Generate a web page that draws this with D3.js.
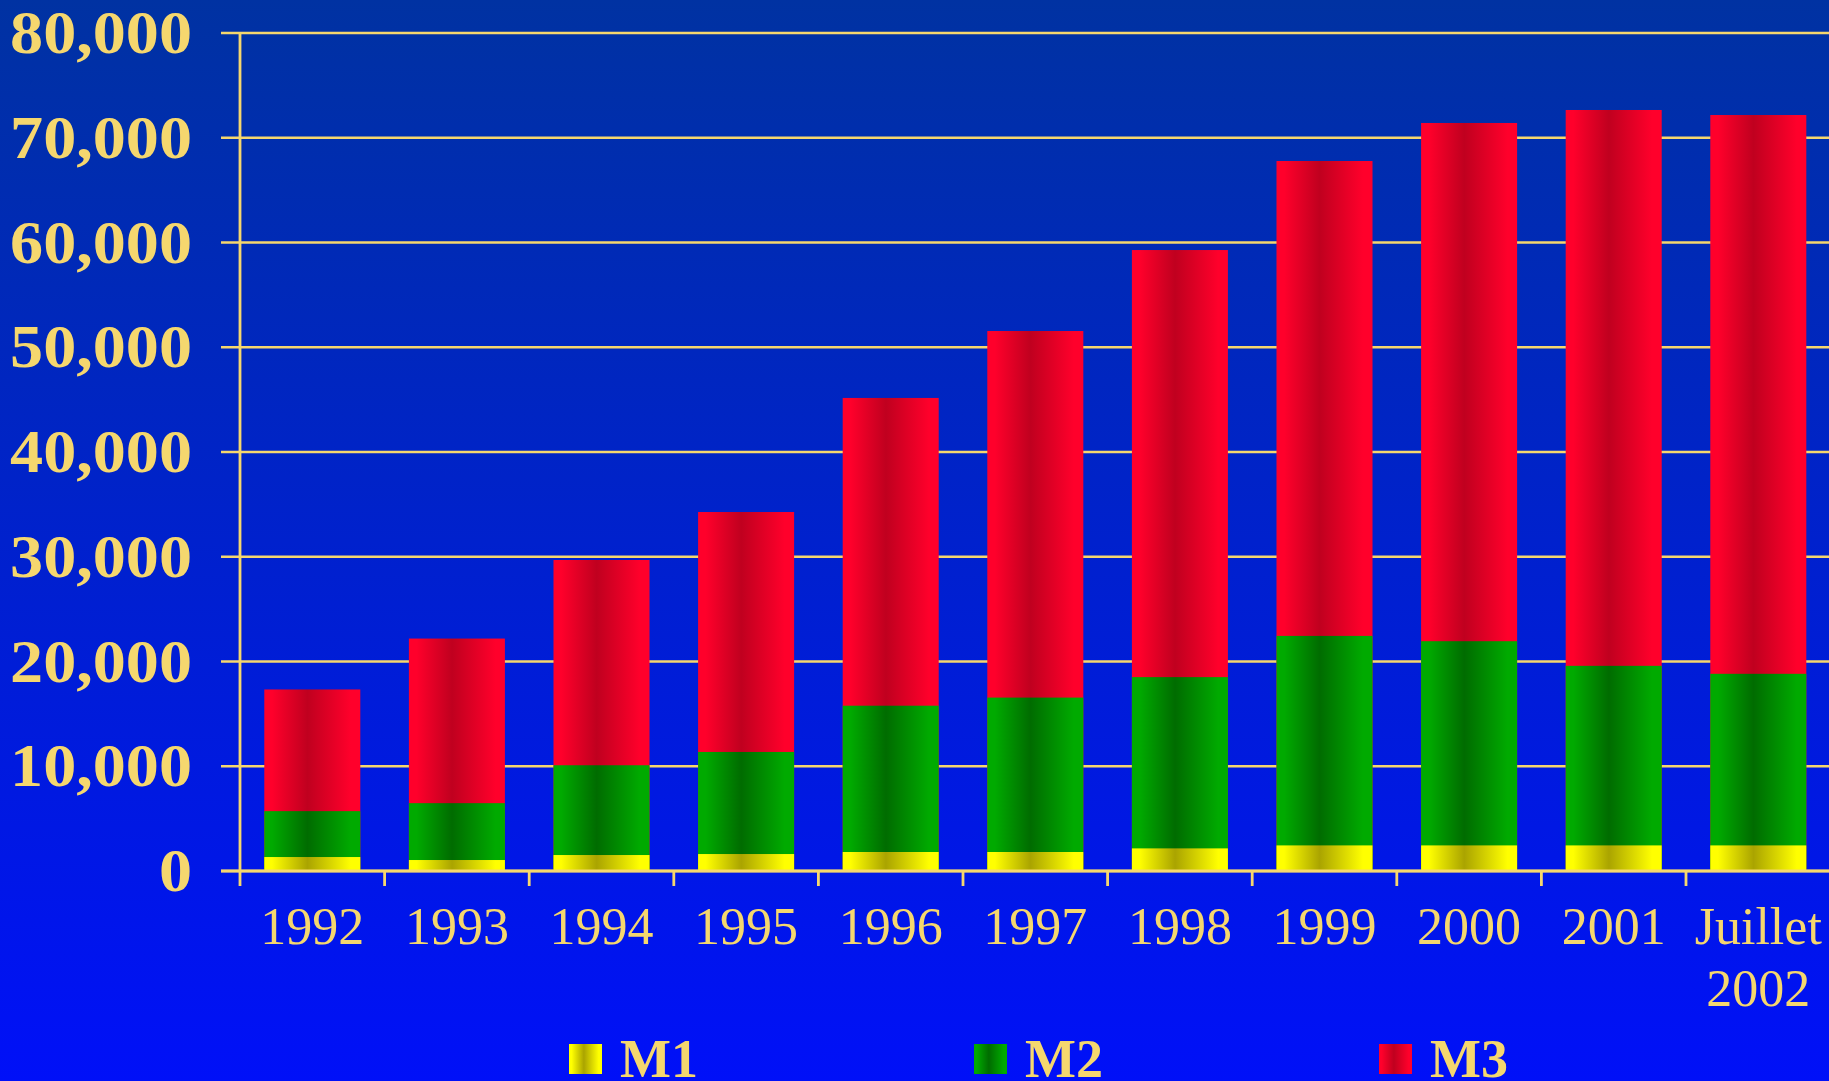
<!DOCTYPE html>
<html>
<head>
<meta charset="utf-8">
<script src="https://cdn.jsdelivr.net/npm/d3@7"></script>
<style>
  html, body { margin: 0; padding: 0; background: #0010f8; overflow: hidden; }
  svg { display: block; }
  text { font-family: "Liberation Serif", "Times New Roman", serif; fill: #f5d76e; }
</style>
</head>
<body>
<svg id="chart" width="1829" height="1081"></svg>
<script>
// Monetary aggregates, year-end values (July for 2002)
const categories = ["1992", "1993", "1994", "1995", "1996", "1997", "1998", "1999", "2000", "2001", "Juillet\n2002"];
const m1 = [1333, 1048, 1524, 1619, 1814, 1814, 2159, 2444, 2444, 2444, 2444];
const m2 = [5714, 6476, 10095, 11365, 15780, 16555, 18508, 22444, 21937, 19587, 18825];
const m3 = [17330, 22190, 29690, 34270, 45160, 51550, 59280, 67780, 71410, 72650, 72170];
const seriesNames = ["M1", "M2", "M3"];
const yTicks = [0, 10000, 20000, 30000, 40000, 50000, 60000, 70000, 80000];

const W = 1829, H = 1081;
const gold = "#f5d76e";
const svg = d3.select("#chart");
const defs = svg.append("defs");

// Page background: deep blue at top fading to bright blue
const bg = defs.append("linearGradient").attr("id", "bg")
  .attr("x1", 0).attr("y1", 0).attr("x2", 0).attr("y2", 1);
bg.append("stop").attr("offset", 0).attr("stop-color", "#0032a2");
bg.append("stop").attr("offset", 1).attr("stop-color", "#0010f8");
svg.append("rect").attr("width", W).attr("height", H).attr("fill", "url(#bg)");

// Cylinder-like horizontal shading for each series
const shades = {
  M1: ["#ffff00", "#aaa400"],
  M2: ["#00aa00", "#006c00"],
  M3: ["#ff002b", "#c0001f"]
};
seriesNames.forEach(name => {
  const [light, dark] = shades[name];
  const g = defs.append("linearGradient").attr("id", "grad-" + name)
    .attr("x1", 0).attr("y1", 0).attr("x2", 1).attr("y2", 0);
  [[0, light], [0.08, light], [0.45, dark], [0.9, light], [1, light]].forEach(([o, c]) =>
    g.append("stop").attr("offset", o).attr("stop-color", c));
});

const x = d3.scaleBand().domain(categories).range([240, 1830.6])
  .paddingInner(0.336).paddingOuter(0.168);
const y = d3.scaleLinear().domain([0, 80000]).range([871, 33]);

const left = x.range()[0], right = x.range()[1];
const tickLen = 19;

// Horizontal gridlines with their left tick marks
svg.append("g").selectAll("line").data(yTicks).join("line")
  .attr("x1", left - tickLen).attr("x2", right)
  .attr("y1", d => y(d)).attr("y2", d => y(d))
  .attr("stroke", gold).attr("stroke-width", 2.6);

// Y tick labels (bold, slightly widened)
svg.append("g").selectAll("text").data(yTicks).join("text")
  .attr("transform", d => `translate(192,${y(d)}) scale(1.085,1)`)
  .attr("dy", "0.33em")
  .attr("text-anchor", "end")
  .style("font-size", "61px").style("font-weight", "bold")
  .text(d => d3.format(",")(d));

// Bars: M3 behind, then M2, then M1 in front, each from zero
const data = { M1: m1, M2: m2, M3: m3 };
["M3", "M2", "M1"].forEach(name => {
  svg.append("g").selectAll("rect").data(categories).join("rect")
    .attr("x", c => x(c))
    .attr("width", x.bandwidth())
    .attr("y", (c, i) => y(data[name][i]))
    .attr("height", (c, i) => y(0) - y(data[name][i]))
    .attr("fill", "url(#grad-" + name + ")");
});

// Axes lines
svg.append("line").attr("x1", left - tickLen).attr("x2", right)
  .attr("y1", y(0)).attr("y2", y(0))
  .attr("stroke", gold).attr("stroke-width", 2.8);
svg.append("line").attr("x1", left).attr("x2", left)
  .attr("y1", y(80000) - 1).attr("y2", y(0) + 15)
  .attr("stroke", gold).attr("stroke-width", 2.8);

// X ticks at category boundaries
const gap = (x.step() - x.bandwidth()) / 2;
svg.append("g").selectAll("line").data(categories.slice(1)).join("line")
  .attr("x1", c => x(c) - gap).attr("x2", c => x(c) - gap)
  .attr("y1", y(0)).attr("y2", y(0) + 15)
  .attr("stroke", gold).attr("stroke-width", 2.8);

// X labels (multi-line where needed)
const xl = svg.append("g").selectAll("text").data(categories).join("text")
  .attr("x", c => x(c) + x.bandwidth() / 2)
  .attr("y", 944)
  .attr("text-anchor", "middle")
  .style("font-size", "52px");
xl.each(function(c) {
  const lines = c.split("\n");
  d3.select(this).selectAll("tspan").data(lines).join("tspan")
    .attr("x", x(c) + x.bandwidth() / 2)
    .attr("dy", (d, i) => i === 0 ? 0 : 62)
    .text(d => d);
});

// Legend along the bottom edge
const legend = svg.append("g").selectAll("g").data(seriesNames).join("g")
  .attr("transform", (d, i) => `translate(${569 + i * 405},1044)`);
legend.append("rect").attr("width", 33).attr("height", 30)
  .attr("fill", d => "url(#grad-" + d + ")");
legend.append("text").attr("x", 51).attr("y", 33)
  .style("font-size", "54px").style("font-weight", "bold")
  .text(d => d);
</script>
</body>
</html>
